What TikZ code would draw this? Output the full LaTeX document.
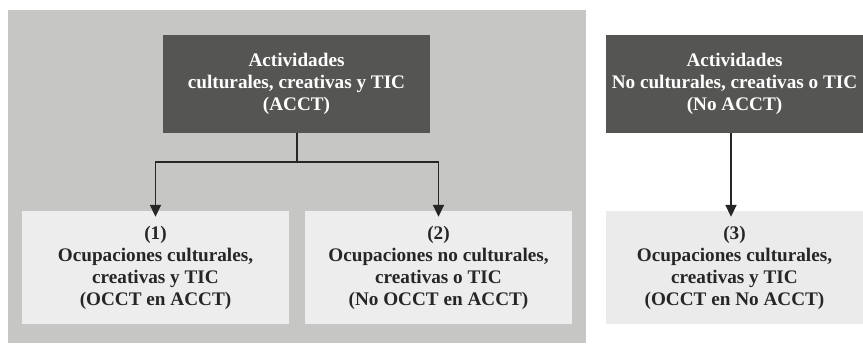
\documentclass[tikz,border=0pt]{standalone}
\usepackage{fontspec}
\setmainfont{Liberation Serif}
\usetikzlibrary{arrows.meta}
\definecolor{bggray}{HTML}{C6C6C4}
\definecolor{darkbox}{HTML}{555553}
\definecolor{lightbox}{HTML}{EDEDED}
\definecolor{lightboxb}{HTML}{EBEBEB}
\tikzset{
  darknode/.style={fill=darkbox, text=white, inner sep=0pt, align=center,
    font=\bfseries\fontsize{19.2}{22}\selectfont},
  lightnode/.style={fill=lightbox, text=black!85, inner sep=0pt, align=center,
    font=\bfseries\fontsize{19.2}{22}\selectfont},
  conn/.style={line width=1.8pt, draw=black!85},
  arr/.style={conn, -{Triangle[length=12pt,width=11pt]}}
}
\begin{document}
\begin{tikzpicture}[x=1pt,y=-1pt]
\useasboundingbox (0,0) rectangle (863,346);
\fill[white] (0,0) rectangle (863,346);
\fill[bggray] (8,10) rectangle (586,343);
\node[darknode, minimum width=267pt, minimum height=98pt] (a) at (296.5,84) {Actividades\\culturales, creativas y TIC\\(ACCT)};
\node[darknode, minimum width=257pt, minimum height=98pt] (b) at (734.5,84) {Actividades\\No culturales, creativas o TIC\\(No ACCT)};
\node[lightnode, minimum width=267pt, minimum height=113pt] (c1) at (155.5,267.5) {(1)\\Ocupaciones culturales,\\creativas y TIC\\(OCCT en ACCT)};
\node[lightnode, minimum width=267pt, minimum height=113pt] (c2) at (438.5,267.5) {(2)\\Ocupaciones no culturales,\\creativas o TIC\\(No OCCT en ACCT)};
\node[lightnode, fill=lightboxb, minimum width=257pt, minimum height=113pt] (c3) at (734.5,267.5) {(3)\\Ocupaciones culturales,\\creativas y TIC\\(OCCT en No ACCT)};
\coordinate (j) at (297,162);
\draw[conn] (a.south -| j) -- (j);
\draw[arr] (j) -| ([yshift=-6pt]c1.north);
\draw[arr] (j) -| ([yshift=-6pt]c2.north);
\draw[arr] (b.south -| 731,0) -- ([yshift=-6pt]c3.north -| 731,0);
\end{tikzpicture}
\end{document}
